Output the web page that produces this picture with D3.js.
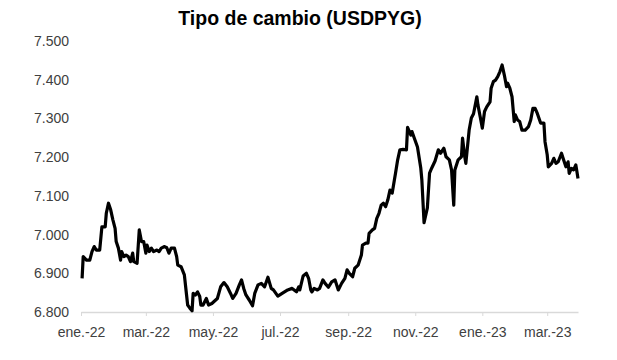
<!DOCTYPE html>
<html>
<head>
<meta charset="utf-8">
<script src="https://cdn.jsdelivr.net/npm/d3@7"></script>
<style>
  body { margin: 0; background: #fff; }
  svg { display: block; font-family: "Liberation Sans", Arial, sans-serif; }
</style>
</head>
<body>
<svg id="chart" width="617" height="360"></svg>
<script>
var W = 617, H = 360;
var LEFT = 81, RIGHT = 578, TOP = 41, BOTTOM = 312;

var title = "Tipo de cambio (USDPYG)";

// days since 1 Jan 2022
var days = [
  1, 2, 5, 8, 10, 12, 14, 17, 19, 22,
  23, 25, 27, 29, 31, 32, 34, 36, 37, 39,
  41, 43, 45, 47, 48, 51, 53, 55, 57, 59,
  60, 62, 64, 66, 69, 71, 73, 76, 78, 80,
  82, 85, 87, 88, 91, 94, 96, 97, 99, 101,
  102, 104, 106, 108, 109, 111, 114, 116, 119, 124,
  127, 130, 133, 136, 138, 141, 144, 146, 148, 150,
  153, 156, 158, 161, 164, 167, 170, 173, 175, 179,
  184, 188, 192, 196, 198, 199, 202, 205, 207, 209,
  210, 212, 215, 217, 220, 222, 225, 228, 231, 234,
  237, 240, 242, 244, 247, 249, 252, 255, 256, 259,
  261, 262, 265, 267, 269, 271, 273, 275, 277, 279,
  281, 283, 285, 286, 288, 290, 293, 296, 297, 300,
  301, 303, 306, 309, 310, 312, 315, 317, 319, 322,
  325, 327, 330, 332, 335, 337, 339, 340, 343, 346,
  347, 349, 350, 353, 355, 357, 360, 361, 363, 365,
  367, 369, 372, 373, 375, 377, 379, 381, 383, 385,
  387, 388, 390, 392, 394, 395, 397, 399, 401, 404,
  407, 409, 411, 413, 415, 418, 421, 422, 424, 425,
  428, 430, 432, 434, 437, 438, 441, 443, 444, 446,
  448, 450, 451, 452
];

// guaranies per dollar
var rates = [
  6887, 6943, 6934, 6934, 6956, 6969, 6960, 6960, 7020, 7020,
  7055, 7081, 7064, 7038, 7016, 6982, 6965, 6934, 6956, 6943,
  6947, 6943, 6930, 6952, 6930, 6926, 7012, 6982, 6982, 6952,
  6973, 6956, 6965, 6956, 6960, 6956, 6965, 6969, 6966, 6952,
  6965, 6965, 6943, 6921, 6917, 6896, 6844, 6818, 6810, 6803,
  6848, 6844, 6852, 6840, 6818, 6818, 6835, 6818, 6822, 6835,
  6865, 6876, 6865, 6848, 6835, 6848, 6870, 6883, 6861, 6844,
  6831, 6816, 6848, 6870, 6874, 6865, 6890, 6861, 6857, 6841,
  6850, 6857, 6861, 6852, 6865, 6857, 6893, 6900, 6887, 6857,
  6852, 6861, 6857, 6861, 6883, 6874, 6864, 6878, 6883, 6857,
  6874, 6887, 6909, 6900, 6891, 6913, 6921, 6947, 6973, 6978,
  6978, 7003, 7012, 7016, 7042, 7055, 7076, 7081, 7072, 7089,
  7115, 7107, 7141, 7158, 7193, 7219, 7220, 7219, 7277, 7257,
  7266, 7250, 7226, 7172, 7141, 7031, 7069, 7159, 7172, 7190,
  7219, 7210, 7223, 7201, 7193, 7167, 7076, 7167, 7193, 7201,
  7249, 7201, 7184, 7270, 7301, 7312, 7356, 7335, 7305, 7275,
  7318, 7330, 7343, 7378, 7395, 7399, 7408, 7421, 7438, 7412,
  7382, 7391, 7378, 7356, 7292, 7309, 7296, 7292, 7270, 7270,
  7279, 7296, 7326, 7326, 7313, 7288, 7288, 7240, 7206, 7175,
  7184, 7197, 7184, 7188, 7210, 7201, 7175, 7188, 7158, 7171,
  7167, 7180, 7163, 7145
];

var tickLabels = ["ene.-22", "mar.-22", "may.-22", "jul.-22", "sep.-22", "nov.-22", "ene.-23", "mar.-23"];
var yTicks = [6800, 6900, 7000, 7100, 7200, 7300, 7400, 7500];

var start = new Date(2022, 0, 1);
var data = d3.zip(days, rates).map(function (p) {
  return { date: d3.timeDay.offset(start, p[0]), value: p[1] };
});

var es = d3.formatLocale({ decimal: ",", thousands: ".", grouping: [3], currency: ["", ""] });
var fmt = es.format(",.0f");

var svg = d3.select("#chart");

var x = d3.scaleTime()
  .domain([start, d3.timeDay.offset(start, 452)])
  .range([LEFT, RIGHT]);

var y = d3.scaleLinear()
  .domain([6800, 7500])
  .range([BOTTOM, TOP]);

var tickDates = tickLabels.map(function (t, i) { return d3.timeMonth.offset(start, i * 2); });

// x axis
var xAxis = svg.append("g")
  .attr("transform", "translate(0," + BOTTOM + ")")
  .call(d3.axisBottom(x)
    .tickValues(tickDates)
    .tickFormat(function (d, i) { return tickLabels[i]; })
    .tickSize(4)
    .tickSizeOuter(0));
xAxis.select(".domain").attr("stroke", "#d9d9d9").attr("stroke-width", 1.5);
xAxis.selectAll(".tick line").attr("stroke", "#d9d9d9");
xAxis.selectAll(".tick text")
  .attr("y", 15)
  .attr("font-size", 14)
  .attr("font-family", "Liberation Sans, Arial, sans-serif")
  .attr("fill", "#404040");

// y axis, labels only
var yAxis = svg.append("g")
  .attr("transform", "translate(" + (LEFT - 12) + ",0)")
  .call(d3.axisLeft(y).tickValues(yTicks).tickFormat(fmt).tickSize(0));
yAxis.select(".domain").remove();
yAxis.selectAll(".tick text")
  .attr("x", 0)
  .attr("font-size", 14)
  .attr("font-family", "Liberation Sans, Arial, sans-serif")
  .attr("fill", "#404040");

// line
var line = d3.line()
  .x(function (d) { return x(d.date); })
  .y(function (d) { return y(d.value); });

svg.append("path")
  .datum(data)
  .attr("fill", "none")
  .attr("stroke", "#000")
  .attr("stroke-width", 3.2)
  .attr("stroke-linejoin", "round")
  .attr("d", line);

svg.append("text")
  .attr("x", 300)
  .attr("y", 25)
  .attr("text-anchor", "middle")
  .attr("font-size", 19.5)
  .attr("font-weight", "bold")
  .attr("fill", "#000")
  .text(title);
</script>
</body>
</html>
